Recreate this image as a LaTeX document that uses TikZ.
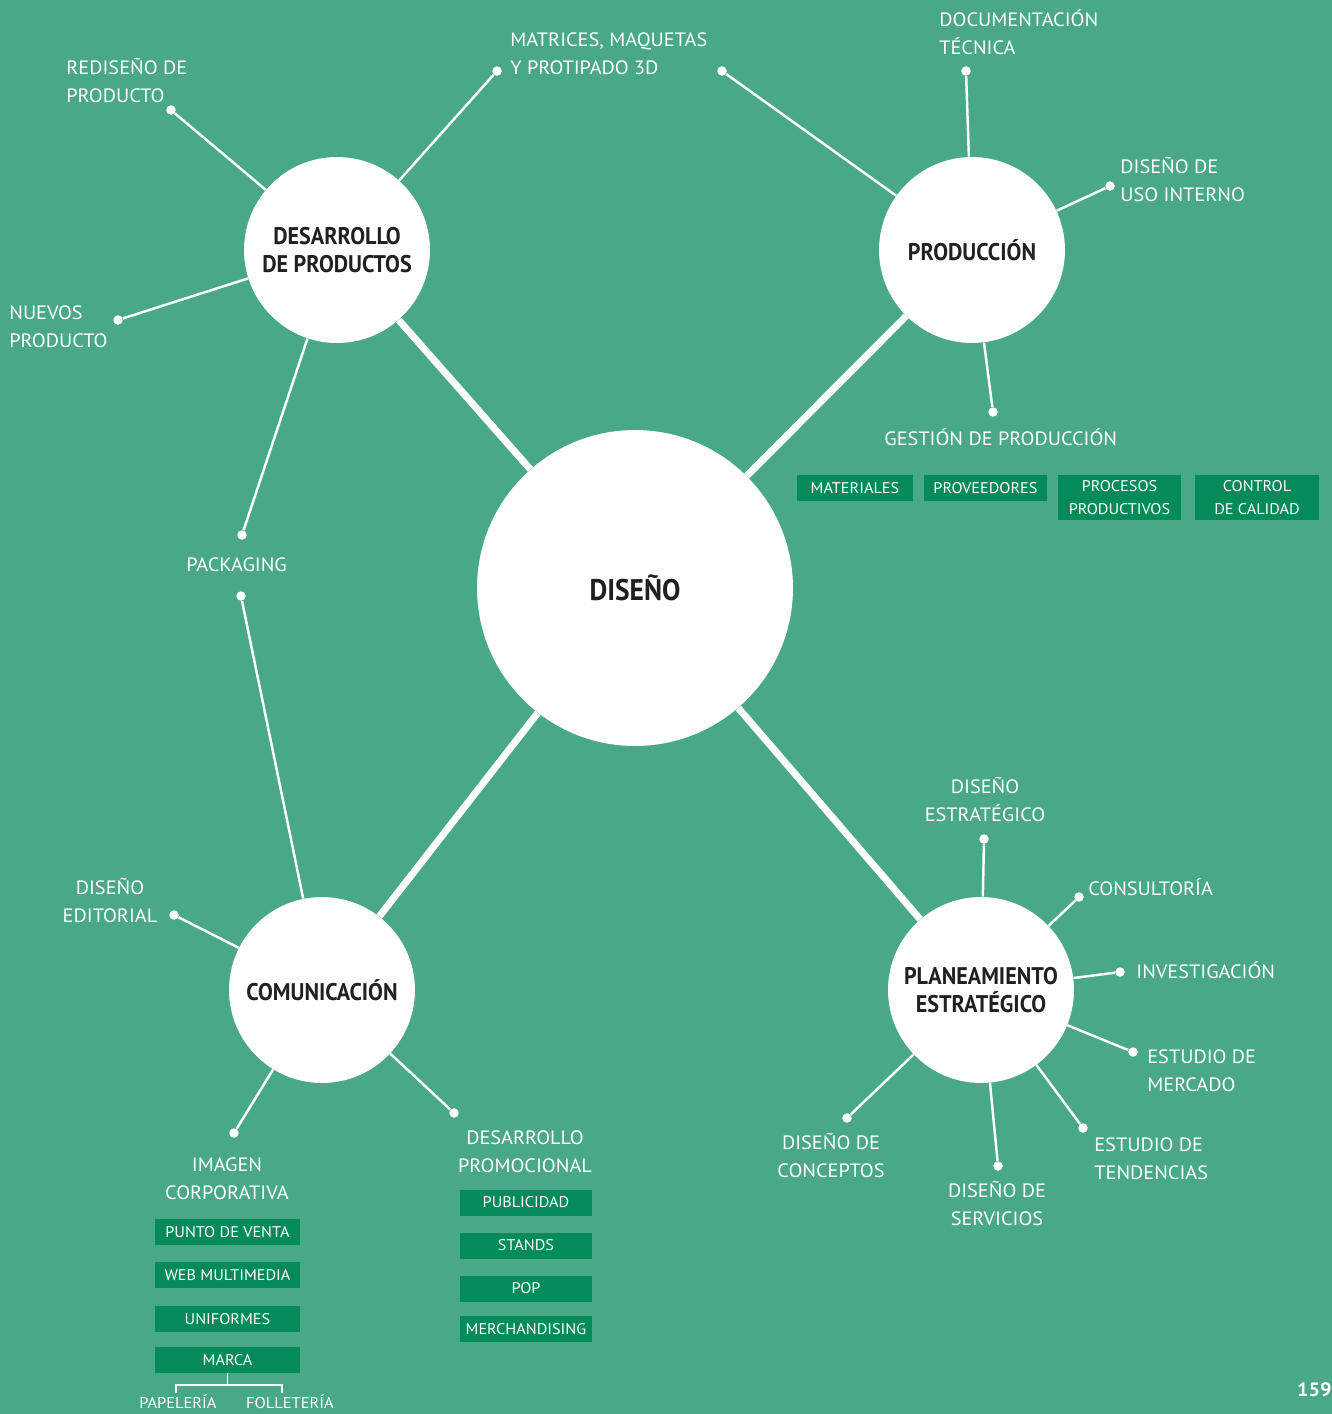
\documentclass[tikz,border=0pt]{standalone}
\usepackage{fontspec}
\setmainfont{PT Sans}[FakeStretch=1.05]
\newfontfamily\hubfont[FakeStretch=0.92]{PT Sans}
\usetikzlibrary{math}
\definecolor{mygreen}{RGB}{72,168,136}
\definecolor{boxgreen}{RGB}{5,138,90}
\definecolor{hubblack}{RGB}{35,31,32}

\tikzset{
  hub/.style={circle,fill=white,inner sep=0pt,align=center,text=hubblack,
    font=\hubfont\bfseries\fontsize{13.7}{16.4}\selectfont,minimum size=3.72cm},
  spoke/.style={white,line width=1.4pt},
  trunk/.style={white,line width=4pt},
  dot/.style={circle,fill=white,inner sep=0pt,minimum size=0.19cm},
  lbl/.style={text=white,inner sep=0pt,font=\fontsize{11}{15.9}\selectfont},
  tag/.style={fill=boxgreen,text=white,inner sep=0pt,align=center,
    font=\fontsize{8.8}{13}\selectfont,minimum height=0.52cm},
}

\begin{document}
\begin{tikzpicture}[x=0.02cm,y=-0.02cm]
\fill[mygreen] (0,0) rectangle (1332,1414);
\useasboundingbox (0,0) rectangle (1332,1414);

%hubs
\node[hub,minimum size=6.32cm,font=\hubfont\bfseries\fontsize{17}{19}\selectfont] (dis) at (635,588) {DISEÑO};
\node[hub] (desa) at (337,250) {DESARROLLO\\DE PRODUCTOS};
\node[hub] (prod) at (972,250) {PRODUCCIÓN};
\node[hub] (comu) at (322,990) {COMUNICACIÓN};
\node[hub] (plan) at (981,990) {PLANEAMIENTO\\ESTRATÉGICO};

\foreach \h in {desa,prod,comu,plan}
  \draw[trunk] (dis) -- (\h);

%dots
\node[dot] (d-redis) at (171,110) {};
\node[dot] (d-matl) at (497,71) {};
\node[dot] (d-matr) at (722,71) {};
\node[dot] (d-nuev) at (118,320) {};
\node[dot] (d-packu) at (242,535) {};
\node[dot] (d-packd) at (241,596) {};
\node[dot] (d-docu) at (966,71) {};
\node[dot] (d-uso) at (1110,186) {};
\node[dot] (d-gest) at (993,412) {};
\node[dot] (d-edit) at (174,915) {};
\node[dot] (d-imag) at (234,1133) {};
\node[dot] (d-prom) at (454,1113) {};
\node[dot] (d-estr) at (984,839) {};
\node[dot] (d-cons) at (1079,897) {};
\node[dot] (d-inve) at (1120,972) {};
\node[dot] (d-merc) at (1133,1052) {};
\node[dot] (d-tend) at (1083,1128) {};
\node[dot] (d-serv) at (998,1166) {};
\node[dot] (d-conc) at (847,1118) {};

\foreach \d in {d-redis,d-matl,d-nuev,d-packu}
  \draw[spoke] (desa) -- (\d);
\foreach \d in {d-matr,d-docu,d-uso,d-gest}
  \draw[spoke] (prod) -- (\d);
\foreach \d in {d-packd,d-edit,d-imag,d-prom}
  \draw[spoke] (comu) -- (\d);
\foreach \d in {d-estr,d-cons,d-inve,d-merc,d-tend,d-serv,d-conc}
  \draw[spoke] (plan) -- (\d);

%labels (base = last line)
\node[lbl,anchor=base west,align=left] (redis) at (66,102) {REDISEÑO DE\\PRODUCTO};
\node[lbl,anchor=base west,align=left] (matr) at (510,74) {MATRICES, MAQUETAS\\Y PROTIPADO 3D};
\node[lbl,anchor=base west,align=left] (nuev) at (9,347) {NUEVOS\\PRODUCTO};
\node[lbl,anchor=base west] (pack) at (186,571) {PACKAGING};
\node[lbl,anchor=base west,align=left] (docu) at (939,54) {DOCUMENTACIÓN\\TÉCNICA};
\node[lbl,anchor=base west,align=left] (uso) at (1120,201) {DISEÑO DE\\USO INTERNO};
\node[lbl,anchor=base west] (gest) at (884,445) {GESTIÓN DE PRODUCCIÓN};
\node[lbl,anchor=base,align=center] (edit) at (110,922) {DISEÑO\\EDITORIAL};
\node[lbl,anchor=base,align=center] (imag) at (227,1199) {IMAGEN\\CORPORATIVA};
\node[lbl,anchor=base,align=center] (prom) at (525,1172) {DESARROLLO\\PROMOCIONAL};
\node[lbl,anchor=base,align=center] (estr) at (985,821) {DISEÑO\\ESTRATÉGICO};
\node[lbl,anchor=base west] (cons) at (1088,895) {CONSULTORÍA};
\node[lbl,anchor=base west] (inve) at (1136,978) {INVESTIGACIÓN};
\node[lbl,anchor=base west,align=left] (merc) at (1147,1091) {ESTUDIO DE\\MERCADO};
\node[lbl,anchor=base west,align=left] (tend) at (1094,1179) {ESTUDIO DE\\TENDENCIAS};
\node[lbl,anchor=base,align=center] (serv) at (997,1225) {DISEÑO DE\\SERVICIOS};
\node[lbl,anchor=base,align=center] (conc) at (831,1177) {DISEÑO DE\\CONCEPTOS};

%boxes
\node[tag,minimum width=2.32cm] (mate) at (855,488) {MATERIALES};
\node[tag,minimum width=2.46cm] (prov) at (985.5,488) {PROVEEDORES};
\node[tag,minimum width=2.46cm,minimum height=0.9cm] (proc) at (1119.5,497.5) {PROCESOS\\PRODUCTIVOS};
\node[tag,minimum width=2.48cm,minimum height=0.9cm] (ctrl) at (1257,497.5) {CONTROL\\DE CALIDAD};

\node[tag,minimum width=2.9cm] (pven) at (227.5,1232) {PUNTO DE VENTA};
\node[tag,minimum width=2.9cm] (webm) at (227.5,1275) {WEB MULTIMEDIA};
\node[tag,minimum width=2.9cm] (unif) at (227.5,1319) {UNIFORMES};
\node[tag,minimum width=2.9cm] (marca) at (227.5,1360) {MARCA};

\node[tag,minimum width=2.64cm] (publ) at (526,1202.5) {PUBLICIDAD};
\node[tag,minimum width=2.64cm] (stan) at (526,1245.5) {STANDS};
\node[tag,minimum width=2.64cm] (pop) at (526,1288.5) {POP};
\node[tag,minimum width=2.64cm] (merch) at (526,1329) {MERCHANDISING};

%marca split
\node[lbl,anchor=base,font=\fontsize{8.9}{10}\selectfont] (pape) at (178,1408) {PAPELERÍA};
\node[lbl,anchor=base,font=\fontsize{8.9}{10}\selectfont] (foll) at (290,1408) {FOLLETERÍA};
\coordinate (brk) at (227.5,1385);
\coordinate (pl) at (176,1393);
\coordinate (fl) at (282,1393);
\draw[white,line width=1.1pt] (marca) -- (brk);
\draw[white,line width=1.1pt] (pl) |- (brk) -| (fl);

\node[lbl,anchor=base east,font=\bfseries\fontsize{11}{13}\selectfont] (pg) at (1332,1396) {159};
\end{tikzpicture}
\end{document}
